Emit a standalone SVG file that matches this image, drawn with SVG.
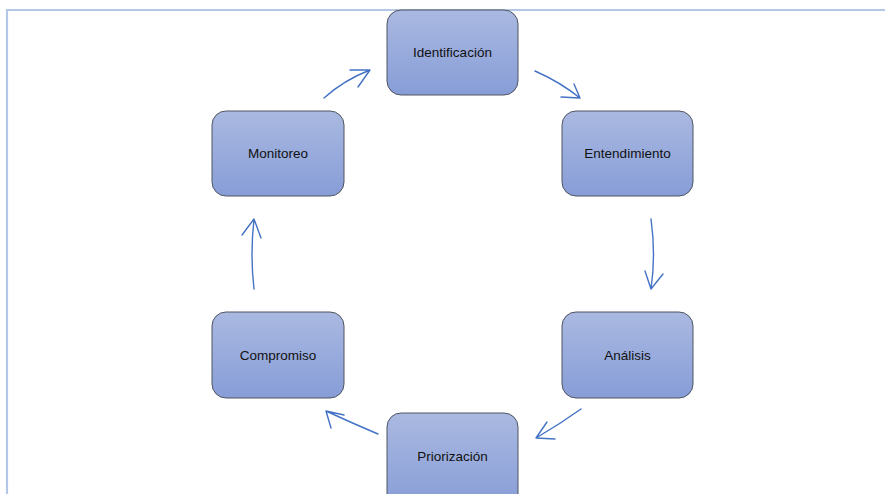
<svg xmlns="http://www.w3.org/2000/svg" width="885" height="494" viewBox="0 0 885 494">
<defs>
<linearGradient id="g" x1="0" y1="0" x2="0" y2="1">
<stop offset="0" stop-color="#AAB9E1"/>
<stop offset="1" stop-color="#879DD7"/>
</linearGradient>
<style>
.box{fill:url(#g);stroke:#4F5560;stroke-width:1}
.lbl{font-family:"Liberation Sans",Arial,sans-serif;font-size:13.5px;fill:#111;text-anchor:middle}
.arr{fill:none;stroke:#4472C4;stroke-width:1.4;stroke-linecap:round;stroke-linejoin:round}
.frame{fill:none;stroke:#B4C7E7;stroke-width:2.2}
</style>
</defs>
<rect width="885" height="494" fill="#fff"/>
<path class="frame" d="M7,494 V10 H885"/>
<g id="identificacion"><rect class="box" x="387" y="10" width="131" height="85" rx="14"/><text class="lbl" x="452.5" y="57">Identificación</text></g>
<g id="entendimiento"><rect class="box" x="562" y="111" width="131" height="85" rx="14"/><text class="lbl" x="627.5" y="158">Entendimiento</text></g>
<g id="analisis"><rect class="box" x="562" y="312" width="131" height="86" rx="14"/><text class="lbl" x="627.5" y="360">Análisis</text></g>
<g id="priorizacion"><rect class="box" x="387" y="413" width="131" height="95" rx="14"/><text class="lbl" x="452.5" y="461">Priorización</text></g>
<g id="compromiso"><rect class="box" x="212" y="312" width="132" height="86" rx="14"/><text class="lbl" x="278" y="360">Compromiso</text></g>
<g id="monitoreo"><rect class="box" x="212" y="111" width="132" height="85" rx="14"/><text class="lbl" x="278" y="158">Monitoreo</text></g>
<g id="connectors">
<path class="arr" d="M535,71 Q560,82 580,98 M561,97 L580,98 L574,84"/>
<path class="arr" d="M651,219 Q656,255 651,289 M645,271 L651,289 L663,274"/>
<path class="arr" d="M581,409 Q560,424 536,438 M547,422 L536,438 L555,439"/>
<path class="arr" d="M378,434 Q352,423 326,411 M331,428 L326,411 L344,415"/>
<path class="arr" d="M254,289 Q250,255 254,219 M242,235 L254,219 L261,238"/>
<path class="arr" d="M324,98 Q344,80 370,70 M350,70 L370,70 L358,87"/>
</g>
</svg>
